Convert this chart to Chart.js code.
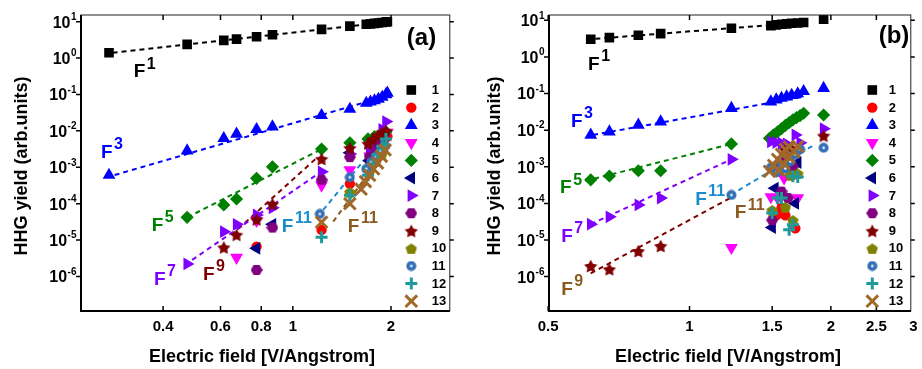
<!DOCTYPE html>
<html>
<head>
<meta charset="utf-8">
<script src="https://cdn.jsdelivr.net/npm/chart.js@4/dist/chart.umd.min.js"></script>
<style>
  html, body { margin: 0; padding: 0; background: #fff; }
  #wrap { position: relative; width: 922px; height: 369px; overflow: hidden; }
  canvas { position: absolute; top: 0; }
  #ca { left: 0; }
  #cb { left: 461px; }
</style>
</head>
<body>
<div id="wrap">
  <canvas id="ca" width="461" height="369"></canvas>
  <canvas id="cb" width="461" height="369"></canvas>
</div>
<script>
const seriesNames = ["1", "2", "3", "4", "5", "6", "7", "8", "9", "10", "11", "12", "13"];
const seriesColors = ["#000000", "#ff0000", "#0000ff", "#ff00ff", "#008000", "#000080", "#8000ff",
  "#800080", "#800000", "#808000", "#3370b5", "#1f9a9a", "#a0692a"];

// panel (a): [field, yield]
const a1 = [[0.273,1.40],[0.474,2.38],[0.614,3.06],[0.672,3.33],[0.774,3.85],[0.866,4.37],[1.225,6.14],[1.496,7.57],[1.68,8.5],[1.73,8.7],[1.78,9.0],[1.83,9.2],[1.88,9.5],[1.93,9.8],[1.95,10.0]];
const a2 = [[0.774,6.6e-6],[1.225,1.9e-5],[1.496,3.5e-4],[1.72,1.5e-3],[1.78,2.5e-3],[1.84,4e-3],[1.90,5.5e-3],[1.95,7e-3]];
const a3 = [[0.273,6.1e-4],[0.474,2.84e-3],[0.614,6.2e-3],[0.672,8.2e-3],[0.774,1.1e-2],[0.866,1.3e-2],[1.225,2.67e-2],[1.496,3.97e-2],[1.68,0.058],[1.73,0.063],[1.78,0.068],[1.83,0.075],[1.88,0.085],[1.93,0.10],[1.95,0.11]];
const a4 = [[0.672,3.3e-6],[0.774,3.4e-5],[1.225,3.2e-4],[1.496,8.4e-4],[1.72,2e-3],[1.80,4e-3],[1.88,6e-3],[1.95,9e-3]];
const a5 = [[0.474,4.2e-5],[0.614,9.2e-5],[0.672,1.34e-4],[0.774,4.96e-4],[0.866,1.03e-3],[1.225,3.16e-3],[1.496,4.7e-3],[1.70,6e-3],[1.78,7e-3],[1.86,8e-3],[1.93,9.5e-3]];
const a6 = [[0.774,5.9e-6],[0.866,2.7e-5],[1.496,2.5e-3],[1.72,1.5e-3],[1.80,3e-3],[1.88,5e-3]];
const a7 = [[0.474,2.2e-6],[0.614,1.7e-5],[0.672,2.7e-5],[0.774,4.9e-5],[0.866,7.7e-5],[1.225,7.5e-4],[1.496,2.3e-3],[1.72,3e-3],[1.80,6e-3],[1.88,1.1e-2],[1.93,1.8e-2]];
const a8 = [[0.774,1.5e-6],[0.866,2.2e-5],[1.225,4.5e-4],[1.496,1.9e-3],[1.72,2e-3],[1.80,3.5e-3],[1.88,5e-3]];
const a9 = [[0.614,6.3e-6],[0.672,1.4e-5],[0.774,3.7e-5],[0.866,9.8e-5],[1.225,1.7e-3],[1.496,3.4e-3],[1.70,4.5e-3],[1.76,6e-3],[1.82,7.5e-3],[1.88,9e-3],[1.93,1.0e-2]];
const a10 = [[1.496,2.1e-4],[1.72,8e-4],[1.80,1.5e-3],[1.88,2.5e-3]];
const a11 = [[1.21,5.2e-5],[1.496,5.3e-4],[1.68,9e-4],[1.74,1.4e-3],[1.80,2e-3],[1.86,2.8e-3],[1.92,3.8e-3]];
const a12 = [[1.225,1.2e-5],[1.496,1.7e-4],[1.70,6e-4],[1.76,1.2e-3],[1.82,2.2e-3],[1.88,3.8e-3],[1.93,6e-3]];
const a13 = [[1.225,3.1e-5],[1.496,1.0e-4],[1.62,2.5e-4],[1.67,4e-4],[1.72,6e-4],[1.77,9e-4],[1.82,1.3e-3],[1.87,2e-3],[1.92,3e-3]];

// panel (b)
const b1 = [[0.616,3.05],[0.675,3.37],[0.778,3.92],[0.868,4.33],[1.228,6.08],[1.49,7.2],[1.53,7.5],[1.57,7.8],[1.61,8.0],[1.65,8.3],[1.70,8.5],[1.75,8.7],[1.93,10.7]];
const b2 = [[1.55,7.7e-4],[1.53,4.7e-5],[1.60,4.7e-5],[1.57,7.5e-5],[1.68,2.1e-5],[1.66,6e-4]];
const b3 = [[0.616,7.4e-3],[0.675,9.1e-3],[0.778,1.39e-2],[0.868,1.7e-2],[1.228,3.97e-2],[1.49,6.0e-2],[1.53,6.8e-2],[1.57,7.5e-2],[1.61,8.2e-2],[1.65,9.0e-2],[1.70,0.10],[1.75,0.115],[1.93,0.14]];
const b4 = [[1.228,6.2e-6],[1.49,1.5e-4],[1.54,1.4e-4],[1.59,4.9e-4],[1.70,1.4e-4],[1.55,1.1e-3]];
const b5 = [[0.616,4.4e-4],[0.675,5.6e-4],[0.778,7.8e-4],[0.868,7.8e-4],[1.228,4.2e-3],[1.48,6.0e-3],[1.51,7.5e-3],[1.54,9e-3],[1.57,1.1e-2],[1.60,1.35e-2],[1.63,1.6e-2],[1.66,1.9e-2],[1.69,2.2e-2],[1.72,2.5e-2],[1.75,2.9e-2],[1.93,2.6e-2]];
const b6 = [[1.52,2.6e-4],[1.50,2.2e-5],[1.68,1e-4],[1.70,1.3e-3],[1.62,1.1e-3]];
const b7 = [[0.616,2.7e-5],[0.675,4.3e-5],[0.778,9.1e-5],[0.868,1.4e-4],[1.228,1.6e-3],[1.49,4.8e-3],[1.53,4.6e-3],[1.57,4.4e-3],[1.61,4.2e-3],[1.68,7.4e-3],[1.72,4.5e-3],[1.93,1.1e-2]];
const b8 = [[1.57,2.1e-4],[1.62,1.4e-4],[1.50,3.5e-5],[1.60,1.5e-3],[1.66,1.0e-3]];
const b9 = [[0.616,1.95e-6],[0.675,1.6e-6],[0.778,5e-6],[0.868,6.9e-6],[1.55,1.2e-3],[1.60,2.9e-3],[1.65,3.2e-3],[1.93,7.1e-3]];
const b10 = [[1.70,6.6e-4],[1.50,6.6e-5],[1.60,8e-5],[1.66,3.5e-5],[1.64,6e-4]];
const b11 = [[1.228,1.7e-4],[1.49,9.5e-4],[1.53,7e-4],[1.57,1.1e-3],[1.60,9e-4],[1.64,1.4e-3],[1.68,2.2e-3],[1.72,3e-3],[1.93,3.3e-3]];
const b12 = [[1.70,5.3e-4],[1.54,1.4e-4],[1.57,1.4e-4],[1.50,5.5e-5],[1.66,2.6e-5],[1.63,1.9e-5],[1.66,5.5e-4]];
const b13 = [[1.48,7.5e-4],[1.51,1.1e-3],[1.54,1.6e-3],[1.57,2.2e-3],[1.60,3.0e-3],[1.63,3.5e-3],[1.55,8e-4],[1.59,1.2e-3],[1.63,1.8e-3],[1.67,2.6e-3],[1.70,3.6e-3]];

// dashed power-law guides
const fitsA = [
  { x: [0.28, 1.95], y: [1.4, 9.75], color: "#000000" },
  { x: [0.284, 1.675], y: [6.1e-4, 0.062], color: "#0000ff" },
  { x: [0.475, 1.225], y: [4.2e-5, 3.16e-3], color: "#008000" },
  { x: [0.466, 1.18], y: [2.06e-6, 6.1e-4], color: "#8000ff" },
  { x: [0.648, 1.18], y: [1.37e-5, 1.76e-3], color: "#800000" },
  { x: [1.239, 1.72], y: [6.7e-5, 2.4e-3], color: "#1a8ccc" },
  { x: [1.33, 1.94], y: [3.2e-5, 3.3e-3], color: "#8b5a1e" },
];
const fitsB = [
  { x: [0.603, 1.75], y: [3.0, 8.75], color: "#000000" },
  { x: [0.623, 1.75], y: [7.4e-3, 0.082], color: "#0000ff" },
  { x: [0.60, 1.228], y: [4.1e-4, 4.2e-3], color: "#008000" },
  { x: [0.616, 1.228], y: [2.7e-5, 1.6e-3], color: "#8000ff" },
  { x: [0.616, 1.218], y: [1.23e-6, 1.38e-4], color: "#800000" },
  { x: [1.224, 1.84], y: [1.7e-4, 3.9e-3], color: "#1a8ccc" },
];
const notesA = [
  { exp: "1", x: 0.325, y: 0.41, color: "#000000" },
  { exp: "3", x: 0.258, y: 2.46e-3, color: "#0000ff" },
  { exp: "5", x: 0.369, y: 2.47e-5, color: "#008000" },
  { exp: "7", x: 0.375, y: 8.3e-7, color: "#8000ff" },
  { exp: "9", x: 0.53, y: 1.1e-6, color: "#800000" },
  { exp: "11", x: 0.925, y: 2.3e-5, color: "#1a8ccc" },
  { exp: "11", x: 1.475, y: 2.3e-5, color: "#8b5a1e" },
];
const notesB = [
  { exp: "1", x: 0.608, y: 0.60, color: "#000000" },
  { exp: "3", x: 0.559, y: 0.017, color: "#0000ff" },
  { exp: "5", x: 0.53, y: 2.6e-4, color: "#008000" },
  { exp: "7", x: 0.533, y: 1.23e-5, color: "#8000ff" },
  { exp: "9", x: 0.533, y: 4.3e-7, color: "#8b5a1e" },
  { exp: "11", x: 1.028, y: 1.24e-4, color: "#1a8ccc" },
  { exp: "11", x: 1.248, y: 5.4e-5, color: "#8b5a1e" },
];

const xTicksA = [0.4, 0.6, 0.8, 1, 2];
const xLabelsA = ["0.4", "0.6", "0.8", "1", "2"];
const xTicksB = [0.5, 1, 1.5, 2, 2.5, 3];
const xLabelsB = ["0.5", "1", "1.5", "2", "2.5", "3"];
const yExps = [1, 0, -1, -2, -3, -4, -5, -6];

const FONT = "'Liberation Sans', Arial, sans-serif";

function shapeImg(kind, color, size) {
  const c = document.createElement("canvas");
  c.width = size; c.height = size;
  const g = c.getContext("2d");
  const r = size / 2;
  g.fillStyle = color;
  g.beginPath();
  if (kind === "star") {
    for (let i = 0; i < 10; i++) {
      const rr = i % 2 ? r * 0.52 : r;
      const an = -Math.PI / 2 + i * Math.PI / 5;
      g.lineTo(r + rr * Math.cos(an), r + 0.8 + rr * Math.sin(an));
    }
  } else if (kind === "hex") {
    for (let i = 0; i < 6; i++) {
      const an = i * Math.PI / 3;
      g.lineTo(r + r * Math.cos(an), r + r * 0.95 * Math.sin(an));
    }
  } else if (kind === "pent") {
    for (let i = 0; i < 5; i++) {
      const an = -Math.PI / 2 + i * 2 * Math.PI / 5;
      g.lineTo(r + r * Math.cos(an), r + 0.9 + r * Math.sin(an));
    }
  } else {
    g.arc(r, r, r - 0.5, 0, Math.PI * 2);
  }
  g.closePath();
  g.fill();
  if (kind === "dot") {
    g.fillStyle = "#ffffff";
    g.beginPath();
    g.arc(r, r, 1.3, 0, Math.PI * 2);
    g.fill();
  }
  return c;
}

const markerStyles = [
  { pointStyle: "rect", radius: 6.8 },
  { pointStyle: "circle", radius: 5.2 },
  { pointStyle: "triangle", radius: 7.4 },
  { pointStyle: "triangle", radius: 7.4, rotation: 180 },
  { pointStyle: "rectRot", radius: 6.6 },
  { pointStyle: "triangle", radius: 7.4, rotation: -90 },
  { pointStyle: "triangle", radius: 7.4, rotation: 90 },
  { img: "hex", size: 12 },
  { img: "star", size: 14 },
  { img: "pent", size: 12 },
  { img: "dot", size: 11 },
  { pointStyle: "cross", radius: 6, stroke: 3 },
  { pointStyle: "crossRot", radius: 8.2, stroke: 3 },
];

function styleFor(i) {
  const m = markerStyles[i];
  return {
    pointStyle: m.img ? shapeImg(m.img, seriesColors[i], m.size) : m.pointStyle,
    radius: m.radius || m.size / 2,
    rotation: m.rotation || 0,
    borderWidth: m.stroke || 0,
  };
}

function buildDatasets(series, fits) {
  const sets = series.map((pts, i) => {
    const s = styleFor(i);
    return {
      label: seriesNames[i],
      data: pts.map(p => ({ x: p[0], y: p[1] })),
      showLine: false,
      pointStyle: s.pointStyle,
      pointRadius: s.radius,
      pointRotation: s.rotation,
      pointBorderWidth: s.borderWidth,
      backgroundColor: seriesColors[i],
      borderColor: seriesColors[i],
      order: 13 - i,
    };
  });
  fits.forEach(f => {
    sets.push({
      label: "fit",
      data: f.x.map((v, k) => ({ x: v, y: f.y[k] })),
      showLine: true,
      borderColor: f.color,
      borderWidth: 2,
      borderDash: [5, 4],
      pointRadius: 0,
      fill: false,
      order: 50,
    });
  });
  return sets;
}

const framePlugin = {
  id: "frame",
  afterDraw(chart, args, o) {
    const ctx = chart.ctx, a = chart.chartArea;
    const xs = chart.scales.x, ys = chart.scales.y;
    ctx.save();
    ctx.strokeStyle = "#222";
    ctx.lineWidth = 1;
    ctx.strokeRect(a.left, a.top, a.right - a.left, a.bottom - a.top);
    ctx.strokeStyle = "#000";
    ctx.lineWidth = 2;
    ctx.beginPath();
    ctx.moveTo(a.left, a.top);
    ctx.lineTo(a.left, a.bottom);
    ctx.lineTo(a.right, a.bottom);
    ctx.stroke();

    ctx.fillStyle = "#000";
    ctx.lineWidth = 1.5;
    ctx.font = "bold 15px " + FONT;
    ctx.textAlign = "center";
    ctx.textBaseline = "middle";
    o.xTicks.forEach((v, k) => {
      const px = xs.getPixelForValue(v);
      if (px < a.right - 1) {
        ctx.beginPath();
        ctx.moveTo(px, a.bottom); ctx.lineTo(px, a.bottom - 5);
        ctx.moveTo(px, a.top); ctx.lineTo(px, a.top + 5);
        ctx.stroke();
      }
      ctx.fillText(o.xLabels[k], px, a.bottom + 15.5);
    });

    yExps.forEach(e => {
      const py = ys.getPixelForValue(Math.pow(10, e));
      ctx.beginPath();
      ctx.moveTo(a.left - 5, py); ctx.lineTo(a.left, py);
      ctx.moveTo(a.right, py); ctx.lineTo(a.right + 4, py);
      ctx.stroke();
      const sup = e < 0 ? "-" + (-e) : String(e);
      ctx.textAlign = "right";
      ctx.font = "bold 10px " + FONT;
      const right = a.left - 4.5;
      const sw = ctx.measureText(sup).width;
      ctx.fillText(sup, right, py - 4.5);
      ctx.font = "bold 16px " + FONT;
      ctx.fillText("10", right - sw - 0.5, py + 1.5);
    });

    // axis titles
    ctx.font = "bold 18px " + FONT;
    ctx.textAlign = "center";
    ctx.fillText("Electric field [V/Angstrom]", o.xTitle[0], o.xTitle[1]);
    ctx.save();
    ctx.translate(o.yTitle[0], o.yTitle[1]);
    ctx.rotate(-Math.PI / 2);
    ctx.fillText("HHG yield (arb.units)", 0, 0);
    ctx.restore();

    // panel tag
    ctx.font = "bold 24px " + FONT;
    ctx.fillText(o.tag, o.tagPos[0], o.tagPos[1]);

    // power-law notes
    o.notes.forEach(n => {
      const px = xs.getPixelForValue(n.x), py = ys.getPixelForValue(n.y);
      ctx.fillStyle = n.color;
      ctx.textAlign = "left";
      ctx.font = "bold 19px " + FONT;
      ctx.fillText("F", px, py);
      const fw = ctx.measureText("F").width;
      ctx.font = "bold 16px " + FONT;
      ctx.fillText(n.exp, px + fw + 1.5, py - 8);
    });

    // legend
    const helpers = Chart.helpers;
    seriesNames.forEach((name, i) => {
      const ly = a.top + 75 + i * 17.6;
      const lx = a.right - 38.5;
      const s = styleFor(i);
      ctx.fillStyle = seriesColors[i];
      ctx.strokeStyle = seriesColors[i];
      ctx.lineWidth = s.borderWidth || 1;
      helpers.drawPoint(ctx, { pointStyle: s.pointStyle, radius: s.radius, rotation: s.rotation, borderWidth: s.borderWidth }, lx, ly);
      ctx.fillStyle = "#000";
      ctx.textAlign = "left";
      ctx.font = "bold 13px " + FONT;
      ctx.fillText(name, a.right + o.legendText, ly + 0.5);
    });
    ctx.restore();
  },
};

function makePanel(id, series, fits, ranges, opts) {
  return new Chart(document.getElementById(id), {
    type: "scatter",
    data: { datasets: buildDatasets(series, fits) },
    options: {
      responsive: false,
      animation: false,
      layout: { padding: opts.pad },
      scales: {
        x: { type: "logarithmic", min: ranges[0], max: ranges[1], display: false },
        y: { type: "logarithmic", min: ranges[2], max: ranges[3], display: false },
      },
      plugins: {
        legend: { display: false },
        tooltip: { enabled: false },
        frame: opts,
      },
    },
    plugins: [framePlugin],
  });
}

makePanel("ca", [a1, a2, a3, a4, a5, a6, a7, a8, a9, a10, a11, a12, a13], fitsA,
  [0.224, 3.03, 1.12e-7, 15.3],
  { pad: { left: 81, right: 11, top: 15, bottom: 58 }, xTicks: xTicksA, xLabels: xLabelsA,
    xTitle: [262, 357], yTitle: [22, 166], tag: "(a)", tagPos: [421.5, 38.5], notes: notesA, legendText: -18 });

makePanel("cb", [b1, b2, b3, b4, b5, b6, b7, b8, b9, b10, b11, b12, b13], fitsB,
  [0.502, 2.96, 1.15e-7, 14.0],
  { pad: { left: 88, right: 7, top: 15, bottom: 58 }, xTicks: xTicksB, xLabels: xLabelsB,
    xTitle: [267, 357], yTitle: [34, 166], tag: "(b)", tagPos: [433, 36], notes: notesB, legendText: -22 });
</script>
</body>
</html>
